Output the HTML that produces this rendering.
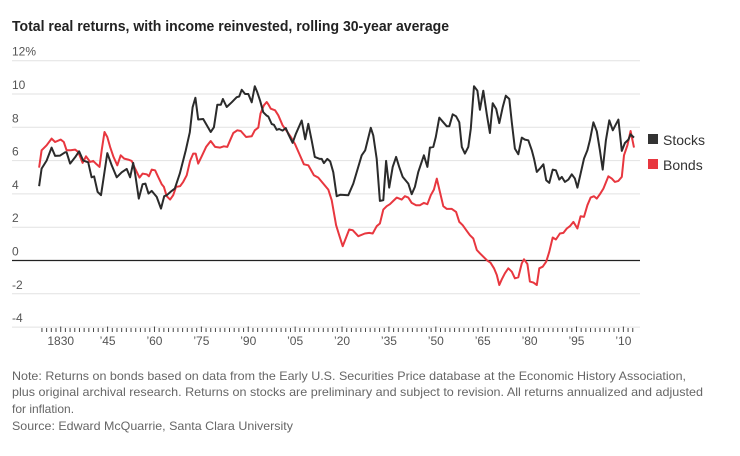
<!DOCTYPE html>
<html><head><meta charset="utf-8"><style>
html,body{margin:0;padding:0;background:#fff;}
svg{display:block;font-family:"Liberation Sans",sans-serif;}
</style></head><body>
<svg id="chart" width="740" height="456" viewBox="0 0 740 456" xmlns="http://www.w3.org/2000/svg">
<text x="12" y="31" font-size="15" font-weight="bold" fill="#222" textLength="437" lengthAdjust="spacingAndGlyphs">Total real returns, with income reinvested, rolling 30-year average</text>
<g id="grid"></g>
<g id="ylabels"></g>
<g id="xaxis"></g>
<g id="series"></g>
<g>
<g><rect x="648" y="134" width="10" height="10" fill="#333"/><text x="663" y="145" font-size="14" fill="#333">Stocks</text></g>
<g><rect x="648" y="159" width="10" height="10" fill="#e8373f"/><text x="663" y="170" font-size="14" fill="#333">Bonds</text></g>
</g>
<g font-size="12" fill="#666">
<text x="12" y="380" textLength="674" lengthAdjust="spacingAndGlyphs">Note: Returns on bonds based on data from the Early U.S. Securities Price database at the Economic History Association,</text>
<text x="12" y="396" textLength="691" lengthAdjust="spacingAndGlyphs">plus original archival research. Returns on stocks are preliminary and subject to revision. All returns annualized and adjusted</text>
<text x="12" y="413">for inflation.</text>
<text x="12" y="430" textLength="281" lengthAdjust="spacingAndGlyphs">Source: Edward McQuarrie, Santa Clara University</text>
</g>
</svg>
<script>
const yTicks = [12,10,8,6,4,2,0,-2,-4];
const xTickYears = [1830,1845,1860,1875,1890,1905,1920,1935,1950,1965,1980,1995,2010];
const xTickLabels = ["1830","’45","’60","’75","’90","’05","’20","’35","’50","’65","’80","’95","’10"];
const stockYears = [1823.1,1823.9,1825.5,1827.1,1828.2,1829.8,1831.4,1831.9,1833,1834.6,1835.9,1837.2,1838.8,1839.9,1840.7,1841.8,1842.9,1843.6,1844.9,1846.3,1847.9,1849.5,1851.1,1852.2,1853.2,1853.8,1855,1856.2,1857.1,1858.1,1859.1,1860.7,1862.1,1863.1,1863.9,1865.5,1866.5,1868.1,1870,1871.3,1872.2,1873.1,1874,1875.6,1878,1879,1880.1,1881.2,1881.9,1883.1,1884.7,1886.3,1887.1,1887.9,1889,1890,1891.1,1892.1,1892.9,1893.8,1894.8,1895.9,1896.4,1897.5,1898.2,1899.1,1899.9,1901,1902,1902.8,1904.2,1905.2,1907.1,1908.2,1909.2,1910.3,1911.3,1912.9,1913.5,1914.2,1915.3,1916.2,1917.2,1918.3,1919.5,1922,1923.6,1926.3,1927.4,1929.2,1930,1931.1,1932.1,1933.2,1934.1,1935.1,1936.2,1937.3,1938.3,1939.4,1941.2,1942.3,1943.3,1944.4,1946.2,1947.3,1948.1,1949.2,1950,1951.1,1952.4,1953.5,1954.3,1955.4,1956.5,1957.5,1958.3,1959.3,1960.4,1961.2,1962.2,1963.3,1964.1,1965.2,1966.3,1967.3,1968.2,1969.3,1970.3,1971.4,1972.4,1973.5,1974.3,1975.3,1976.4,1977.5,1978.5,1979.6,1980.7,1981.4,1982.3,1983.3,1984.4,1985.3,1986.3,1987.4,1988.4,1989.5,1990.3,1991.3,1992.4,1993.5,1994.5,1995.3,1996.3,1997.4,1998.5,1999.3,2000.4,2001.5,2002.5,2003.4,2004.4,2005.5,2006.6,2007.6,2008.4,2009.5,2010.5,2011.6,2012.3,2013.4];
const stockValues = [4.46,5.52,6.0,6.78,6.28,6.3,6.5,6.5,5.82,6.2,6.56,6.0,5.9,5.0,5.05,4.12,3.92,4.8,6.45,5.72,5.0,5.3,5.5,5.0,5.86,5.22,3.72,4.58,4.62,4.02,4.18,3.82,3.12,3.86,3.92,4.18,4.32,5.22,6.6,7.7,9.2,9.77,8.47,8.5,7.72,8.0,9.35,9.35,9.7,9.22,9.5,9.81,9.85,10.25,10.0,10.0,9.5,10.47,10.1,9.6,8.9,8.7,8.65,8.2,8.15,7.85,7.9,7.8,7.95,7.6,7.07,7.6,8.41,7.28,8.21,7.2,6.22,6.1,6.1,5.85,6.1,5.95,5.3,3.86,3.95,3.92,4.62,6.32,6.62,7.97,7.5,6.1,3.58,3.62,5.98,4.38,5.62,6.22,5.62,5.02,4.62,3.98,4.42,5.32,6.32,5.62,6.78,6.82,7.42,8.58,8.3,8.06,8.06,8.78,8.66,8.3,6.82,6.42,6.82,7.92,10.47,10.2,9.05,10.2,8.78,7.66,9.45,9.1,8.25,9.2,9.9,9.7,8.3,6.72,6.38,7.38,7.26,7.22,6.62,6.12,5.32,5.52,5.78,4.82,4.66,5.46,5.42,4.86,5.02,4.72,4.86,5.18,4.92,4.38,5.22,6.12,6.62,7.22,8.3,7.76,6.62,5.46,7.22,8.42,7.82,8.18,8.46,6.58,7.06,7.26,7.58,7.38];
const bondYears = [1823.1,1823.9,1825.5,1827.1,1828.2,1830,1831,1831.9,1833.2,1834.6,1835.6,1837,1838.1,1839.4,1840.4,1841.5,1842.4,1843.1,1844,1844.9,1845.8,1846.9,1848.1,1849.2,1850.3,1851.6,1852.7,1853.8,1855.2,1856.2,1857.5,1858.2,1859.1,1860.2,1861.2,1862.3,1863,1863.9,1865,1866,1866.9,1868.2,1869.2,1870.3,1871.4,1872.4,1873.2,1874,1875.1,1876.5,1878,1879.4,1881,1882.2,1883.3,1884.2,1885.2,1886.5,1887.6,1889.3,1891.1,1892.1,1893.2,1893.9,1895,1895.9,1896.4,1897.2,1898.6,1899.6,1901,1902.3,1903.6,1905,1906.3,1907.8,1909.2,1911,1912.4,1914,1915.6,1916.7,1918.1,1919.1,1920.2,1921.3,1922.3,1923.4,1925.2,1927.3,1928.7,1929.8,1931.1,1932.1,1933.2,1934.3,1935.3,1936.4,1937.5,1939.1,1940.1,1941.2,1942.3,1943.7,1944.9,1946.2,1947.3,1948.4,1949.4,1950.3,1951.3,1952.4,1953.5,1955.1,1956.5,1957.5,1958.6,1959.9,1960.9,1962,1963.1,1964.1,1965.2,1966.5,1967.5,1968.6,1969.5,1970.3,1971.1,1972.1,1973.2,1974.3,1975.3,1976.4,1977.5,1978.2,1979.3,1980.1,1981.2,1982.3,1983.1,1984.2,1985.3,1986.3,1987.4,1988.4,1989.7,1990.8,1991.9,1992.9,1994,1995.3,1996.3,1997.4,1998.5,1999.5,2000.6,2001.5,2002.5,2003.6,2005.2,2006.3,2007.3,2008.4,2009.5,2010.2,2011.3,2012.3,2013.4];
const bondValues = [5.58,6.62,6.92,7.32,7.12,7.26,7.12,6.62,6.62,6.66,6.52,5.86,6.26,5.92,5.98,5.78,5.62,6.62,7.72,7.42,6.82,6.22,5.72,6.32,6.12,6.06,5.98,5.52,4.98,5.22,5.18,5.06,5.46,5.42,5.02,4.58,4.42,3.86,3.66,3.92,4.42,4.46,4.72,5.12,5.98,6.42,6.42,5.82,6.26,6.82,7.18,6.82,6.78,6.86,6.82,7.22,7.66,7.82,7.78,7.42,7.46,7.82,7.98,8.82,9.32,9.52,9.38,9.12,9.02,8.72,8.12,7.78,7.42,6.98,6.42,5.78,5.72,5.12,4.98,4.62,4.26,3.62,2.12,1.52,0.86,1.38,1.86,1.82,1.46,1.62,1.66,1.62,2.06,2.22,3.06,3.26,3.38,3.58,3.78,3.66,3.86,3.78,3.46,3.32,3.32,3.46,3.38,3.92,4.26,4.92,4.12,3.26,3.1,3.1,2.92,2.32,2.12,1.78,1.52,1.32,0.63,0.43,0.23,-0.01,-0.13,-0.47,-0.87,-1.47,-1.13,-0.77,-0.47,-0.67,-1.07,-1.01,-0.17,0.07,-0.21,-1.27,-1.33,-1.47,-0.47,-0.37,-0.07,0.53,1.38,1.26,1.62,1.66,1.92,2.06,2.32,1.92,2.66,2.62,3.32,3.78,3.86,3.72,3.98,4.32,5.06,4.92,4.72,4.78,5.02,6.32,6.92,7.78,6.78];

const NS = "http://www.w3.org/2000/svg";
const xScale = y => 60.7 + (y - 1830) * 3.126;
const yScale = v => 260.5 - v * 16.65;
function mk(tag, attrs, parent){ const e=document.createElementNS(NS,tag); for(const k in attrs) e.setAttribute(k,attrs[k]); parent.appendChild(e); return e; }

const grid=document.getElementById('grid'), yl=document.getElementById('ylabels');
yTicks.forEach(t=>{
  const l=mk('line',{x1:12,x2:640,y1:yScale(t),y2:yScale(t),stroke:t===0?'#222':'#e2e2e2','stroke-width':t===0?1.2:1},grid);
  
  
  const tx=mk('text',{x:12,y:yScale(t)-5,'font-size':12,fill:'#555'},yl);
  tx.textContent = t===12 ? '12%' : String(t);
  
  
});
const xa=document.getElementById('xaxis');
for(let yr=1824.0; yr<=2013.5; yr+=1.5){
  const major = xTickYears.some(m=>Math.abs(m-yr)<0.1);
  const t=mk('line',{x1:xScale(yr),x2:xScale(yr),y1:major?326.5:328,y2:332,stroke:'#444','stroke-width':1},xa);
  
  
}
xTickYears.forEach((yr,i)=>{
  const tx=mk('text',{x:xScale(yr),y:345,'font-size':12,fill:'#555','text-anchor':'middle'},xa);
  tx.textContent=xTickLabels[i];
  
  
});
const sg=document.getElementById('series');
function line(xs,vs,color,name){
  const d=xs.map((x,i)=>(i?'L':'M')+xScale(x).toFixed(1)+' '+yScale(vs[i]).toFixed(1)).join(' ');
  const p=mk('path',{d:d,fill:'none',stroke:color,'stroke-width':2,'stroke-linejoin':'round'},sg);
  
  
}
line(bondYears,bondValues,'#e8373f','bonds-line');
line(stockYears,stockValues,'#2b2b2b','stocks-line');
</script>
</body></html>
